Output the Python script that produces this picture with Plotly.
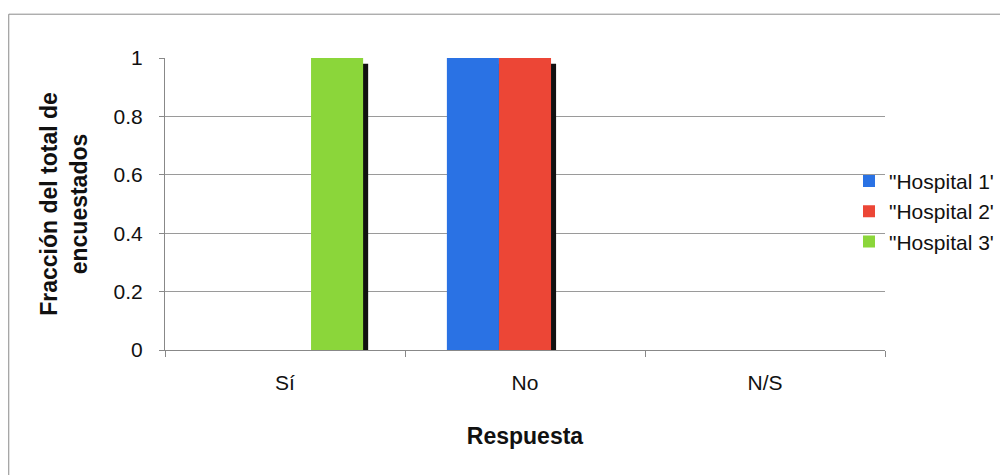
import plotly.graph_objects as go

# Survey answers and the fraction of respondents per hospital
categories = ["Sí", "No", "N/S"]
hospital_1 = [0, 1, 0]
hospital_2 = [0, 1, 0]
hospital_3 = [1, 0, 0]
series_names = ['"Hospital 1\'', '"Hospital 2\'', '"Hospital 3\'']
series_values = [hospital_1, hospital_2, hospital_3]
series_colors = ["#2a72e4", "#ec4636", "#8bd63a"]
y_tick_vals = [0, 0.2, 0.4, 0.6, 0.8, 1]
y_tick_text = ["0", "0.2", "0.4", "0.6", "0.8", "1"]

FONT = "Liberation Sans, Arial, sans-serif"
bar_w = 0.217
offsets = [-1.5 * bar_w, -0.5 * bar_w, 0.5 * bar_w]
shadow_shift = 0.021

fig = go.Figure()

# thin dark side shadow behind each bar
for vals, off in zip(series_values, offsets):
    fig.add_trace(go.Bar(
        x=categories, y=[v * 0.98 for v in vals],
        offset=off + shadow_shift, width=bar_w,
        marker=dict(color="#111111", line=dict(width=0)),
        showlegend=False, hoverinfo="skip",
    ))

for name, vals, off, col in zip(series_names, series_values, offsets, series_colors):
    fig.add_trace(go.Bar(
        x=categories, y=vals, name=name,
        offset=off, width=bar_w,
        marker=dict(color=col, line=dict(width=0)),
    ))

fig.update_layout(
    width=1000, height=475,
    margin=dict(l=165, r=115, t=58, b=125, autoexpand=False),
    paper_bgcolor="white", plot_bgcolor="white",
    barmode="overlay",
    font=dict(family=FONT, size=21, color="#111111"),
    legend=dict(
        x=0.95, y=0.475, xanchor="left", yanchor="middle",
        font=dict(family=FONT, size=21, color="#111111"),
        itemwidth=30, tracegroupgap=2,
        bgcolor="rgba(0,0,0,0)",
    ),
    xaxis=dict(
        type="category", range=[-0.5, 2.5],
        showgrid=False, showline=True, linecolor="#888888", linewidth=1,
        ticks="outside", tickson="boundaries", ticklen=6, tickcolor="#888888",
        ticklabelstandoff=14,
        tickfont=dict(family=FONT, size=21),
        title=dict(text="<b>Respuesta</b>", font=dict(family=FONT, size=23), standoff=34),
    ),
    yaxis=dict(
        range=[0, 1], tickvals=y_tick_vals, ticktext=y_tick_text,
        showgrid=True, gridcolor="#9a9a9a", gridwidth=1,
        showline=True, linecolor="#888888", linewidth=1,
        ticks="outside", ticklen=5, tickcolor="#888888",
        ticklabelstandoff=12,
        tickfont=dict(family=FONT, size=21),
        zeroline=False,
        title=dict(text="<b>Fracción del total de<br>encuestados</b>",
                   font=dict(family=FONT, size=23), standoff=19),
    ),
)

# outer chart frame
fig.add_shape(type="rect", xref="paper", yref="paper",
              x0=-0.217, x1=1.2, y0=-0.45, y1=1.15,
              line=dict(color="#8a8a8a", width=1), fillcolor="rgba(0,0,0,0)", layer="below")

fig.write_html("out.html")
